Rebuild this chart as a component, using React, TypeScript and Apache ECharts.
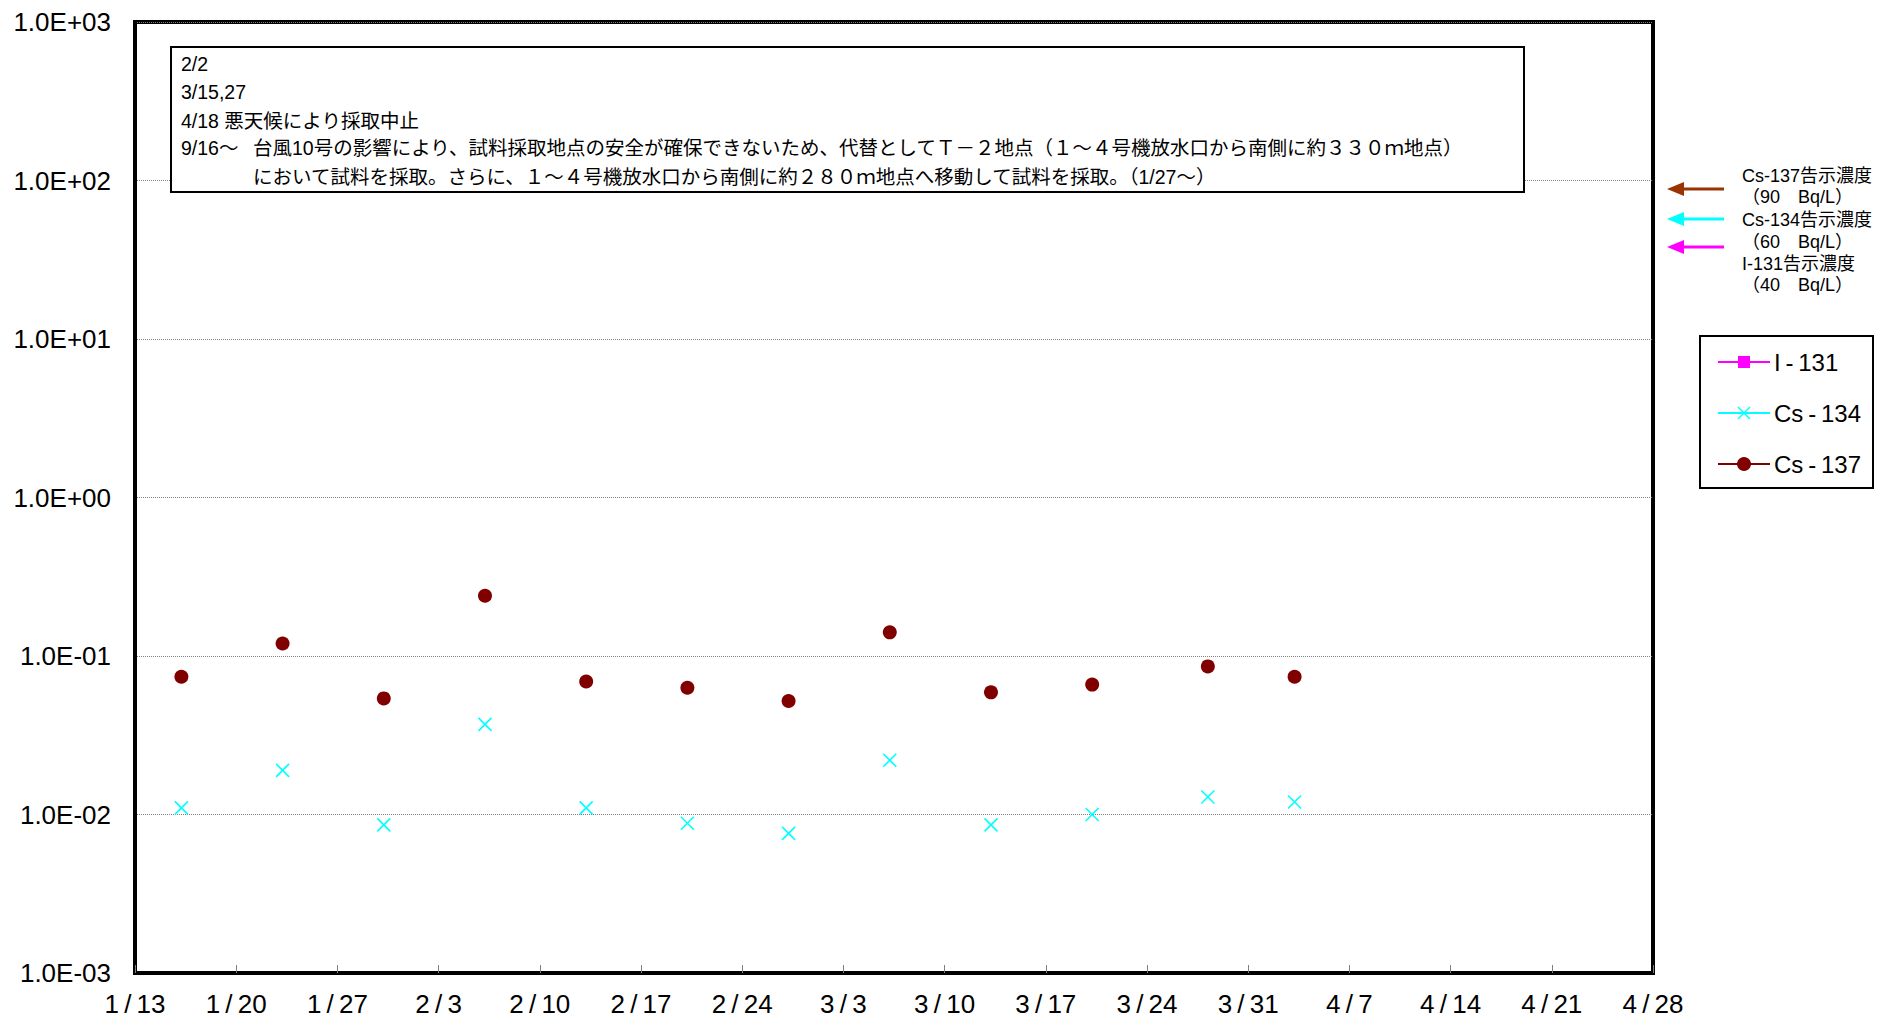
import React, { useEffect, useRef } from "react";
import * as echarts from "echarts";

// ---- data ----
const START = { y: 2017, m: 1, d: 13 };
const X_MAX_DAYS = 105;
const sampleDates = ["1/16", "1/23", "1/30", "2/6", "2/13", "2/20", "2/27", "3/6", "3/13", "3/20", "3/28", "4/3"];
const SAMPLE_HOUR = 5; // approximate sampling time of day
const cs137 = [0.074, 0.12, 0.054, 0.24, 0.069, 0.063, 0.052, 0.141, 0.059, 0.066, 0.086, 0.074];
const cs134 = [0.011, 0.019, 0.0086, 0.037, 0.011, 0.0088, 0.0076, 0.022, 0.0086, 0.01, 0.0129, 0.012];
const i131: number[] = [];
const seriesNames = ["I-131", "Cs-134", "Cs-137"];
const legendLabels = ["I\u2009-\u2009131", "Cs\u2009-\u2009134", "Cs\u2009-\u2009137"];
const noteLines = ["2/2", "3/15,27", "4/18 悪天候により採取中止"];
const noteHead = "9/16～";
const noteBody = [
  "台風10号の影響により、試料採取地点の安全が確保できないため、代替としてＴ－２地点（１～４号機放水口から南側に約３３０ｍ地点）",
  "において試料を採取。さらに、１～４号機放水口から南側に約２８０ｍ地点へ移動して試料を採取。（1/27～）",
];
const limitTexts = [
  ["Cs-137告示濃度", "（90　Bq/L）"],
  ["Cs-134告示濃度", "（60　Bq/L）"],
  ["I-131告示濃度", "（40　Bq/L）"],
];

const DAY = 86400000;
const startUTC = Date.UTC(START.y, START.m - 1, START.d);
const toDays = (md: string) => {
  const [m, d] = md.split("/").map(Number);
  return (Date.UTC(START.y, m - 1, d, SAMPLE_HOUR) - startUTC) / DAY;
};
const dayLabel = (v: number) => {
  const dt = new Date(startUTC + Math.round(v) * DAY);
  return `${dt.getUTCMonth() + 1}\u2009/\u2009${dt.getUTCDate()}`;
};
const expLabel = (v: number) => {
  const e = Math.round(Math.log10(v));
  return `1.0E${e < 0 ? "-" : "+"}${String(Math.abs(e)).padStart(2, "0")}`;
};

const LATIN = "'Liberation Sans', Arial, sans-serif";
const CJK = "'Liberation Sans', 'Noto Sans CJK JP', sans-serif";

const COL_I131 = "#FF00FF";
const COL_CS134 = "#00FFFF";
const COL_CS137 = "#800000";
const ARROW_COLS = ["#993300", "#00FFFF", "#FF00FF"];

export default function App() {
  const ref = useRef<HTMLDivElement>(null);
  useEffect(() => {
    if (!ref.current) return;
    const chart = echarts.init(ref.current, null, { renderer: "svg" });

    const graphics: any[] = [];
    // annotation box
    graphics.push({
      type: "rect",
      shape: { x: 171, y: 47, width: 1353, height: 145 },
      style: { fill: "#fff", stroke: "#000", lineWidth: 2 },
      z: 10,
    });
    const lineY = [64, 92, 121, 148, 177];
    const noteFont = `19.5px ${CJK}`;
    noteLines.forEach((t, i) => {
      graphics.push({
        type: "text",
        x: 181,
        y: lineY[i],
        style: { text: t, font: noteFont, fill: "#000", verticalAlign: "middle" },
        z: 11,
      });
    });
    graphics.push({
      type: "text",
      x: 181,
      y: lineY[3],
      style: { text: noteHead, font: noteFont, fill: "#000", verticalAlign: "middle" },
      z: 11,
    });
    noteBody.forEach((t, i) => {
      graphics.push({
        type: "text",
        x: 253,
        y: lineY[3 + i],
        style: { text: t, font: noteFont, fill: "#000", verticalAlign: "middle" },
        z: 11,
      });
    });

    // limit arrows + texts
    const arrowY = [189, 219, 247];
    arrowY.forEach((y, i) => {
      graphics.push({
        type: "line",
        shape: { x1: 1680, y1: y, x2: 1724, y2: y },
        style: { stroke: ARROW_COLS[i], lineWidth: 3 },
      });
      graphics.push({
        type: "polygon",
        shape: { points: [[1667, y], [1684, y - 7], [1684, y + 7]] },
        style: { fill: ARROW_COLS[i] },
      });
    });
    const textY = [176, 197, 220, 242, 264, 285];
    limitTexts.flat().forEach((t, i) => {
      graphics.push({
        type: "text",
        x: 1742,
        y: textY[i],
        style: { text: t, font: `18px ${CJK}`, fill: "#000", verticalAlign: "middle" },
      });
    });

    // legend
    graphics.push({
      type: "rect",
      shape: { x: 1700, y: 336, width: 173, height: 152 },
      style: { fill: "#fff", stroke: "#000", lineWidth: 2 },
    });
    const legY = [362, 413, 464];
    const legCols = [COL_I131, COL_CS134, COL_CS137];
    legY.forEach((y, i) => {
      graphics.push({
        type: "line",
        shape: { x1: 1718, y1: y, x2: 1770, y2: y },
        style: { stroke: legCols[i], lineWidth: 2 },
      });
      if (i === 0) {
        graphics.push({ type: "rect", shape: { x: 1738, y: y - 6, width: 12, height: 12 }, style: { fill: COL_I131 } });
      } else if (i === 1) {
        graphics.push({ type: "line", shape: { x1: 1738, y1: y - 6, x2: 1750, y2: y + 6 }, style: { stroke: COL_CS134, lineWidth: 1.5 } });
        graphics.push({ type: "line", shape: { x1: 1738, y1: y + 6, x2: 1750, y2: y - 6 }, style: { stroke: COL_CS134, lineWidth: 1.5 } });
      } else {
        graphics.push({ type: "circle", shape: { cx: 1744, cy: y, r: 7 }, style: { fill: COL_CS137 } });
      }
      graphics.push({
        type: "text",
        x: 1774,
        y,
        style: { text: legendLabels[i], font: `24px ${LATIN}`, fill: "#000", verticalAlign: "middle" },
      });
    });

    const option: any = {
      animation: false,
      backgroundColor: "#fff",
      grid: {
        left: 135,
        top: 22,
        right: 1877 - 1653,
        bottom: 1022 - 973,
        show: true,
        borderColor: "#000",
        borderWidth: 4,
        backgroundColor: "transparent",
      },
      xAxis: {
        type: "value",
        min: 0,
        max: X_MAX_DAYS,
        interval: 7,
        axisLine: { show: true, lineStyle: { color: "#000", width: 4 } },
        axisTick: { show: true, inside: true, length: 8, lineStyle: { color: "#808080", width: 1 } },
        splitLine: { show: false },
        axisLabel: {
          formatter: (v: number) => dayLabel(v),
          fontSize: 26,
          fontFamily: LATIN,
          color: "#000",
          margin: 18,
          showMinLabel: true,
          showMaxLabel: true,
        },
      },
      yAxis: {
        type: "log",
        logBase: 10,
        min: 0.001,
        max: 1000,
        interval: 1,
        axisLine: { show: true, lineStyle: { color: "#000", width: 4 } },
        axisTick: { show: false },
        splitLine: { show: true, lineStyle: { color: "#808080", type: "dotted", width: 1 } },
        axisLabel: {
          formatter: (v: number) => expLabel(v),
          fontSize: 26,
          fontFamily: LATIN,
          color: "#000",
          margin: 24,
        },
      },
      graphic: graphics,
      series: [
        {
          name: seriesNames[0],
          type: "scatter",
          symbol: "rect",
          symbolSize: 12,
          itemStyle: { color: COL_I131, opacity: 1 },
          data: i131.map((v, i) => [toDays(sampleDates[i]), v]),
        },
        {
          name: seriesNames[1],
          type: "scatter",
          symbol: "path://M0,0L10,10M10,0L0,10",
          symbolSize: 13,
          itemStyle: { color: "rgba(0,0,0,0)", borderColor: COL_CS134, borderWidth: 1.6, opacity: 1 },
          data: cs134.map((v, i) => [toDays(sampleDates[i]), v]),
        },
        {
          name: seriesNames[2],
          type: "scatter",
          symbol: "circle",
          symbolSize: 14,
          itemStyle: { color: COL_CS137, opacity: 1 },
          data: cs137.map((v, i) => [toDays(sampleDates[i]), v]),
        },
      ],
    };
    chart.setOption(option);
    return () => chart.dispose();
  }, []);

  return (
    <div
      ref={ref}
      style={{ position: "fixed", left: 0, top: 0, width: 1877, height: 1022, background: "#fff" }}
    />
  );
}
